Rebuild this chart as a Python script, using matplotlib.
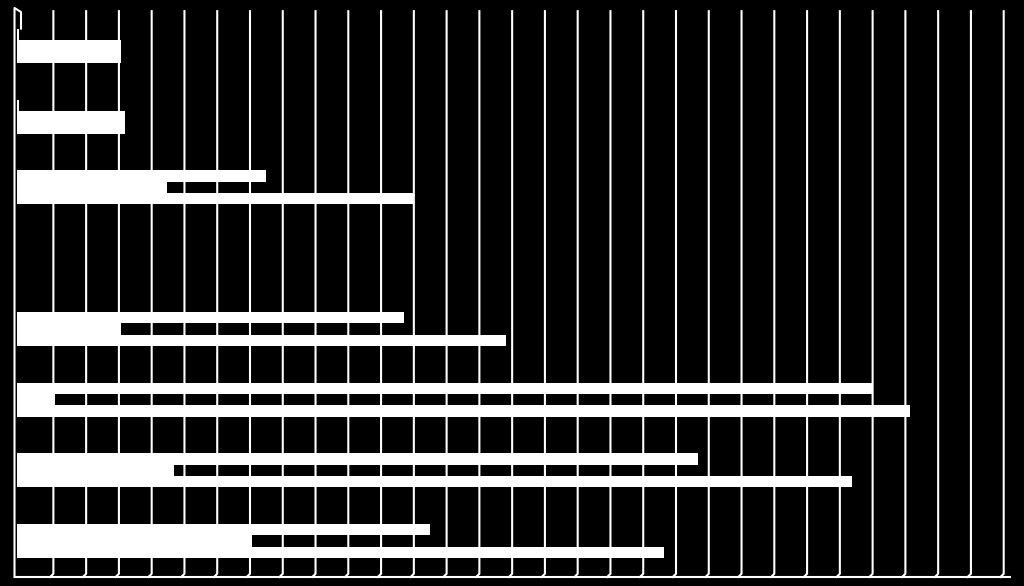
import matplotlib
matplotlib.use("Agg")
import matplotlib.pyplot as plt
import matplotlib.transforms as mtransforms
import numpy as np

# values (one unit = one gridline step)
categories = ["c1", "c2", "c3", "c4", "c5", "c6", "c7", "c8"]
series_top = [0.07, 0.07, 7.60, 0.0, 11.82, 26.11, 20.77, 12.60]
series_mid = [3.17, 3.30, 4.57, 0.0, 3.16, 1.16, 4.79, 7.18]
series_bot = [3.17, 3.30, 12.12, 0.0, 14.92, 27.25, 25.48, 19.75]
grid_steps = list(range(1, 31))

W, H = 1024, 586
ax_left, ax_top, ax_w, ax_h = 17, 10.6, 983.1, 565.8

fig = plt.figure(figsize=(W / 100, H / 100), dpi=100, facecolor="black")
ax = fig.add_axes([ax_left / W, (H - ax_top - ax_h) / H, ax_w / W, ax_h / H])
ax.set_facecolor("black")

y = np.arange(len(categories))
bar_h = 0.16
ax.barh(y - bar_h, series_top, height=bar_h, color="white", zorder=3)
ax.barh(y, series_mid, height=bar_h, color="white", zorder=3)
ax.barh(y + bar_h, series_bot, height=bar_h, color="white", zorder=3)

ax.set_xlim(0, 30)
ax.set_ylim(len(categories) - 0.5, -0.5)

px = lambda d: d / ax_w
py = lambda d: d / ax_h

# back-wall gridlines, shifted a few pixels right (3D depth),
# each with a small bend down to the front floor edge
for k in grid_steps:
    xa = ax.transLimits.transform((k, 0))[0]
    ax.plot([xa + px(3.6), xa + px(3.6), xa + px(0.3)],
            [0.999, py(2.6), py(-0.6)],
            color="white", lw=1.5, transform=ax.transAxes,
            zorder=1, clip_on=False, solid_joinstyle="round")

# frame: left wall with slanted top corner, and floor line
ax.plot([px(-2.5), px(-2.5), px(4), px(4)],
        [py(-0.6), 1 + py(2.6), 1 - py(1.4), 1 - py(18)],
        color="white", lw=1.5, transform=ax.transAxes, clip_on=False, zorder=4)
ax.plot([px(-2.5), px(993)], [py(-0.6), py(-0.6)],
        color="white", lw=1.5, transform=ax.transAxes, clip_on=False, zorder=4)

for s in ax.spines.values():
    s.set_visible(False)
ax.set_xticks([])
ax.set_yticks([])

fig.savefig("out.png", dpi=100, facecolor="black")
